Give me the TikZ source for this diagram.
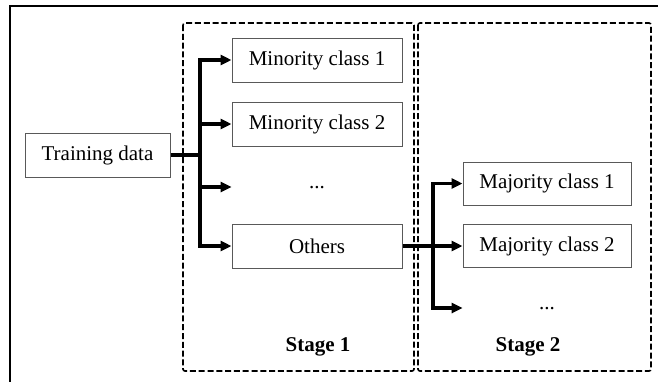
\documentclass[tikz,border=0pt]{standalone}
\usepackage{fontspec}
\setmainfont{Liberation Serif}
\usetikzlibrary{positioning,arrows.meta}
\tikzset{
  txt/.style={font=\fontsize{10.5}{12}\selectfont},
  cls/.style={txt, draw=gray!70!black, line width=0.5pt, minimum width=85pt, minimum height=22pt, inner sep=0pt},
  blank/.style={txt, minimum width=85pt, inner sep=0pt, text height=1.5pt, text depth=0pt},
  stagebox/.style={draw, line width=0.8pt, dash pattern=on 3pt off 1.4pt, rounded corners=1pt},
  trunk/.style={line width=1.9pt},
  flow/.style={trunk, -{Triangle[length=5.5pt,width=5pt]}},
}
\begin{document}
\begin{tikzpicture}[x=0.5pt,y=-0.5pt]
	\useasboundingbox (0,0) rectangle (658,381);
	%% outer frame
	\draw[line width=1pt] (10,395) -- (10,6) -- (670,6);
	%% stages
	\draw[stagebox] (183,23) rectangle (414,371);
	\draw[stagebox] (418,23) rectangle (651,371);
	\node[txt, font=\fontsize{10.5}{12}\selectfont\bfseries] (st1) at (318,347) {Stage 1};
	\node[txt, font=\fontsize{10.5}{12}\selectfont\bfseries] (st2) at (528,347) {Stage 2};
	%% stage 1
	\node[cls, minimum width=72.5pt] (train) at (97.5,155) {Training data};
	\node[cls] (min1) at (317,60) {Minority class 1};
	\node[cls, below=9.5pt of min1] (min2) {Minority class 2};
	\node[blank] (dots1) at (317,187) {...};
	\node[cls] (others) at (317,246) {Others};
	%% stage 2
	\node[cls, minimum width=84pt, minimum height=21.5pt] (maj1) at (547,183.5) {Majority class 1};
	\node[cls, minimum width=84pt, minimum height=21.5pt] (maj2) at (547,246) {Majority class 2};
	\node[blank, minimum width=84pt] (dots2) at (547,308) {...};
	\coordinate (j1) at (200,155);
	\coordinate (j2) at (433,246);
	% split of the training data
	\draw[trunk] (train.east) -- (j1);
	\draw[flow] (j1) |- (min1.west);
	\draw[flow] (j1) |- (others.west);
	\draw[flow] (j1 |- min2.west) -- (min2.west);
	\draw[flow] (j1 |- dots1.west) -- (dots1.west);
	% split of the others
	\draw[flow] (others.east) -- (maj2.west);
	\draw[flow] (j2) |- (maj1.west);
	\draw[flow] (j2) |- (dots2.west);
\end{tikzpicture}
\end{document}
